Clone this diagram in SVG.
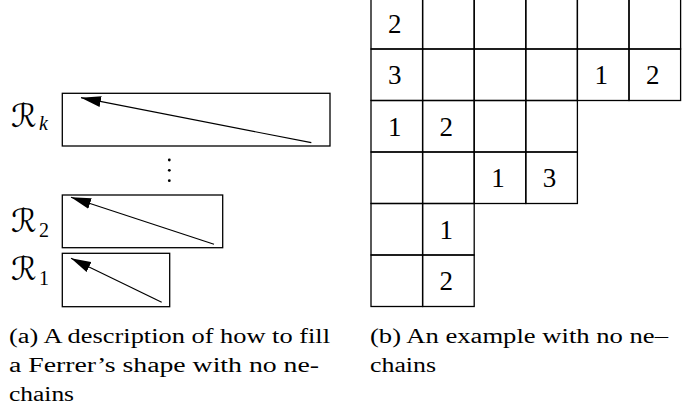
<svg xmlns="http://www.w3.org/2000/svg" width="683" height="412" viewBox="0 0 683 412">
<defs>
<marker id="ah" markerUnits="userSpaceOnUse" markerWidth="21" markerHeight="12" refX="20" refY="6" orient="auto">
<path d="M0,0.5 L20,6 L0,11.5 Z" fill="#000"/>
</marker>
</defs>
<rect width="683" height="412" fill="#fff"/>

<g id="Rk">
<rect x="62.3" y="93.3" width="267.7" height="52.7" fill="none" stroke="#000" stroke-width="1.3"/>
<text x="11" y="127" font-family="DejaVu Sans" font-size="32">ℛ</text>
<text x="39" y="130" font-family="Liberation Serif" font-size="20" font-style="italic">k</text>
</g>
<g id="dots" fill="#000">
<circle cx="169.3" cy="160" r="1.4"/>
<circle cx="169.3" cy="170.3" r="1.4"/>
<circle cx="169.3" cy="180.7" r="1.4"/>
</g>
<g id="R2">
<rect x="62.3" y="195" width="160.4" height="52.7" fill="none" stroke="#000" stroke-width="1.3"/>
<text x="11" y="232" font-family="DejaVu Sans" font-size="32">ℛ</text>
<text x="39" y="237" font-family="Liberation Serif" font-size="20">2</text>
</g>
<g id="R1">
<rect x="62.3" y="253.3" width="107.4" height="53.4" fill="none" stroke="#000" stroke-width="1.3"/>
<text x="11" y="280" font-family="DejaVu Sans" font-size="32">ℛ</text>
<text x="39" y="285" font-family="Liberation Serif" font-size="20">1</text>
</g>
<g id="connectors" stroke="#000" stroke-width="1.2" fill="none" marker-end="url(#ah)">
<line x1="311.3" y1="142.7" x2="81" y2="97.7"/>
<line x1="214" y1="244.3" x2="71" y2="197.3"/>
<line x1="161.7" y1="302.3" x2="71" y2="258.3"/>
</g>

<g id="grid-cells" fill="none" stroke="#000" stroke-width="1.3">
<rect x="371" y="-2.5" width="51.6" height="51.5"/>
<rect x="422.6" y="-2.5" width="51.6" height="51.5"/>
<rect x="474.2" y="-2.5" width="51.6" height="51.5"/>
<rect x="525.8" y="-2.5" width="51.6" height="51.5"/>
<rect x="577.4" y="-2.5" width="51.6" height="51.5"/>
<rect x="629" y="-2.5" width="51.6" height="51.5"/>
<rect x="371" y="49" width="51.6" height="51.5"/>
<rect x="422.6" y="49" width="51.6" height="51.5"/>
<rect x="474.2" y="49" width="51.6" height="51.5"/>
<rect x="525.8" y="49" width="51.6" height="51.5"/>
<rect x="577.4" y="49" width="51.6" height="51.5"/>
<rect x="629" y="49" width="51.6" height="51.5"/>
<rect x="371" y="100.5" width="51.6" height="51.5"/>
<rect x="422.6" y="100.5" width="51.6" height="51.5"/>
<rect x="474.2" y="100.5" width="51.6" height="51.5"/>
<rect x="525.8" y="100.5" width="51.6" height="51.5"/>
<rect x="371" y="152" width="51.6" height="51.5"/>
<rect x="422.6" y="152" width="51.6" height="51.5"/>
<rect x="474.2" y="152" width="51.6" height="51.5"/>
<rect x="525.8" y="152" width="51.6" height="51.5"/>
<rect x="371" y="203.5" width="51.6" height="51.5"/>
<rect x="422.6" y="203.5" width="51.6" height="51.5"/>
<rect x="371" y="255" width="51.6" height="51.5"/>
<rect x="422.6" y="255" width="51.6" height="51.5"/>
</g>
<g id="grid-numbers">
<text x="388" y="33" font-family="Liberation Serif" font-size="27">2</text>
<text x="388" y="84" font-family="Liberation Serif" font-size="27">3</text>
<text x="594.5" y="84" font-family="Liberation Serif" font-size="27">1</text>
<text x="646" y="84" font-family="Liberation Serif" font-size="27">2</text>
<text x="388" y="135.5" font-family="Liberation Serif" font-size="27">1</text>
<text x="439.6" y="135.5" font-family="Liberation Serif" font-size="27">2</text>
<text x="491.2" y="187" font-family="Liberation Serif" font-size="27">1</text>
<text x="542.8" y="187" font-family="Liberation Serif" font-size="27">3</text>
<text x="439.6" y="238.5" font-family="Liberation Serif" font-size="27">1</text>
<text x="439.6" y="290" font-family="Liberation Serif" font-size="27">2</text>
</g>

<g id="caption-a">
<text x="9" y="343" font-family="Liberation Serif" font-size="20" textLength="321" lengthAdjust="spacingAndGlyphs">(a) A description of how to fill</text>
<text x="9" y="372" font-family="Liberation Serif" font-size="20" textLength="310" lengthAdjust="spacingAndGlyphs">a Ferrer’s shape with no ne-</text>
<text x="9" y="401" font-family="Liberation Serif" font-size="20" textLength="65" lengthAdjust="spacingAndGlyphs">chains</text>
</g>
<g id="caption-b">
<text x="370" y="343" font-family="Liberation Serif" font-size="20" textLength="298" lengthAdjust="spacingAndGlyphs">(b) An example with no ne–</text>
<text x="370" y="372" font-family="Liberation Serif" font-size="20" textLength="66" lengthAdjust="spacingAndGlyphs">chains</text>
</g>
</svg>
